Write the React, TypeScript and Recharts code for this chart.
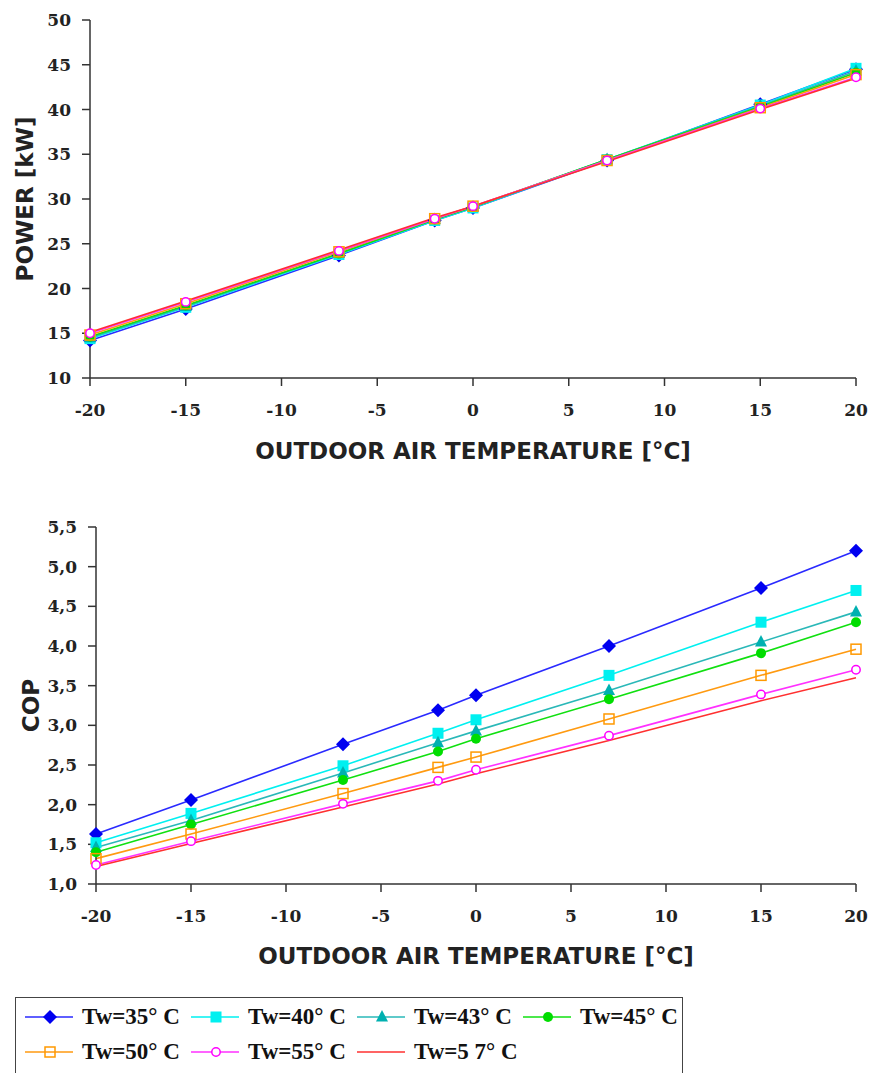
import React from "react";
import { CartesianGrid, Line, LineChart, XAxis, YAxis } from "recharts";

const temps = [-20, -15, -7, -2, 0, 7, 15, 20];
const tempTicks = [-20, -15, -10, -5, 0, 5, 10, 15, 20];
const powerTicks = [10, 15, 20, 25, 30, 35, 40, 45, 50];
const copTicks = [1.0, 1.5, 2.0, 2.5, 3.0, 3.5, 4.0, 4.5, 5.0, 5.5];

const seriesNames = ["Tw=35° C", "Tw=40° C", "Tw=43° C", "Tw=45° C", "Tw=50° C", "Tw=55° C", "Tw=5 7° C"];

const power35 = [14.2, 17.7, 23.7, 27.6, 29.0, 34.3, 40.6, 44.5];
const power40 = [14.4, 17.9, 23.8, 27.6, 29.0, 34.4, 40.5, 44.6];
const power43 = [14.5, 18.0, 23.9, 27.7, 29.1, 34.4, 40.4, 44.3];
const power45 = [14.6, 18.1, 23.9, 27.7, 29.1, 34.4, 40.3, 44.1];
const power50 = [14.8, 18.3, 24.1, 27.8, 29.2, 34.3, 40.2, 43.9];
const power55 = [15.0, 18.5, 24.2, 27.8, 29.2, 34.3, 40.1, 43.6];
const power57 = [15.1, 18.6, 24.3, 27.9, 29.2, 34.2, 40.0, 43.5];

const cop35 = [1.63, 2.06, 2.76, 3.19, 3.38, 4.0, 4.73, 5.2];
const cop40 = [1.52, 1.89, 2.49, 2.9, 3.07, 3.63, 4.3, 4.7];
const cop43 = [1.46, 1.8, 2.4, 2.78, 2.93, 3.44, 4.05, 4.43];
const cop45 = [1.4, 1.75, 2.31, 2.67, 2.83, 3.33, 3.91, 4.3];
const cop50 = [1.32, 1.63, 2.14, 2.47, 2.6, 3.08, 3.63, 3.96];
const cop55 = [1.24, 1.54, 2.01, 2.3, 2.44, 2.87, 3.39, 3.7];
const cop57 = [1.22, 1.51, 1.97, 2.26, 2.39, 2.81, 3.31, 3.6];

const powerSeries = [power35, power40, power43, power45, power50, power55, power57];
const copSeries = [cop35, cop40, cop43, cop45, cop50, cop55, cop57];

type Marker = "diamond" | "square" | "triangle" | "circle" | "hollowSquare" | "hollowCircle" | "none";

const styles: { line: string; mark: string; marker: Marker }[] = [
  { line: "#2a2aff", mark: "#0000f0", marker: "diamond" },
  { line: "#00f0f0", mark: "#00f0f0", marker: "square" },
  { line: "#2ab8b8", mark: "#00b0b0", marker: "triangle" },
  { line: "#10e010", mark: "#00dd00", marker: "circle" },
  { line: "#ff9a10", mark: "#ff9900", marker: "hollowSquare" },
  { line: "#ff30ff", mark: "#ff00ff", marker: "hollowCircle" },
  { line: "#ff3030", mark: "#ff3030", marker: "none" },
];

const buildRows = (series: number[][]) =>
  temps.map((t, i) => {
    const row: Record<string, number> = { t };
    series.forEach((s, k) => (row[`s${k}`] = s[i]));
    return row;
  });

const powerData = buildRows(powerSeries);
const copData = buildRows(copSeries);

function markerShape(kind: Marker, color: string, cx: number, cy: number, key?: string | number) {
  switch (kind) {
    case "diamond":
      return <polygon key={key} points={`${cx},${cy - 7} ${cx + 7},${cy} ${cx},${cy + 7} ${cx - 7},${cy}`} fill={color} />;
    case "square":
      return <rect key={key} x={cx - 5.5} y={cy - 5.5} width={11} height={11} fill={color} />;
    case "triangle":
      return <polygon key={key} points={`${cx},${cy - 7} ${cx + 6},${cy + 4.5} ${cx - 6},${cy + 4.5}`} fill={color} />;
    case "circle":
      return <circle key={key} cx={cx} cy={cy} r={5} fill={color} />;
    case "hollowSquare":
      return <rect key={key} x={cx - 5} y={cy - 5} width={10} height={10} fill="none" stroke={color} strokeWidth={1.5} />;
    case "hollowCircle":
      return <circle key={key} cx={cx} cy={cy} r={4.2} fill="#fff" stroke={color} strokeWidth={1.5} />;
    default:
      return <g key={key} />;
  }
}

const tickStyle = { fill: "#222", fontSize: 17, fontFamily: "DejaVu Serif", fontWeight: "bold" };
const titleStyle = { fill: "#222", fontSize: 23, fontFamily: "DejaVu Sans", fontWeight: "bold", textAnchor: "middle" as const };
const axisStroke = { stroke: "#333", strokeWidth: 1.5 };

const comma = (v: number) => v.toFixed(1).replace(".", ",");

function Chart({
  data,
  top,
  height,
  marginTop,
  marginLeft,
  domain,
  ticks,
  yTitle,
  xAxisHeight,
  formatY,
}: {
  data: Record<string, number>[];
  top: number;
  height: number;
  marginTop: number;
  marginLeft: number;
  domain: [number, number];
  ticks: number[];
  yTitle: string;
  xAxisHeight: number;
  formatY?: (v: number) => string;
}) {
  return (
    <div style={{ position: "absolute", left: 0, top }}>
      <LineChart width={877} height={height} data={data} margin={{ top: marginTop, right: 21, left: marginLeft, bottom: 0 }}>
        <CartesianGrid stroke="none" />
        <XAxis
          type="number"
          dataKey="t"
          domain={[-20, 20]}
          ticks={tempTicks}
          height={xAxisHeight}
          tick={tickStyle}
          tickSize={8}
          tickMargin={18}
          axisLine={axisStroke}
          tickLine={axisStroke}
          label={{ value: "OUTDOOR AIR TEMPERATURE [°C]", position: "insideBottom", offset: 16, style: titleStyle }}
        />
        <YAxis
          type="number"
          domain={domain}
          ticks={ticks}
          width={75}
          tick={tickStyle}
          tickSize={8}
          tickMargin={11}
          tickFormatter={formatY}
          axisLine={axisStroke}
          tickLine={axisStroke}
          label={{ value: yTitle, angle: -90, position: "insideLeft", offset: 10, style: titleStyle }}
        />
        {styles.map((s, k) => (
          <Line
            key={k}
            type="linear"
            dataKey={`s${k}`}
            name={seriesNames[k]}
            stroke={s.line}
            strokeWidth={1.6}
            isAnimationActive={false}
            activeDot={false}
            dot={(p: any) => markerShape(s.marker, s.mark, p.cx, p.cy, p.index)}
          />
        ))}
      </LineChart>
    </div>
  );
}

function LegendBox() {
  return (
    <div
      style={{
        position: "absolute",
        left: 15,
        top: 997,
        width: 666,
        height: 90,
        border: "1.5px solid #444",
        background: "#fff",
      }}
    >
      {styles.map((s, k) => {
        const col = k % 4;
        const row = Math.floor(k / 4);
        const left = 9 + col * 166;
        const top = 8 + row * 35;
        return (
          <div key={k} style={{ position: "absolute", left, top, height: 22, display: "flex", alignItems: "center" }}>
            <svg width={48} height={20}>
              <line x1={0} y1={10} x2={48} y2={10} stroke={s.line} strokeWidth={1.6} />
              {markerShape(s.marker, s.mark, 25, 10)}
            </svg>
            <span
              style={{
                marginLeft: 9,
                fontFamily: "Liberation Serif",
                fontWeight: "bold",
                fontSize: 23,
                color: "#111",
                lineHeight: "22px",
                whiteSpace: "pre",
              }}
            >
              {seriesNames[k]}
            </span>
          </div>
        );
      })}
    </div>
  );
}

export default function App() {
  return (
    <div style={{ position: "absolute", left: 0, top: 0, width: 877, height: 1073, overflow: "hidden", background: "#fff" }}>
      <Chart
        data={powerData}
        top={0}
        height={475}
        marginTop={20}
        marginLeft={15}
        domain={[10, 50]}
        ticks={powerTicks}
        yTitle="POWER [kW]"
        xAxisHeight={97}
      />
      <Chart
        data={copData}
        top={480}
        height={500}
        marginTop={47}
        marginLeft={21}
        domain={[1, 5.5]}
        ticks={copTicks}
        yTitle="COP"
        xAxisHeight={96}
        formatY={comma}
      />
      <LegendBox />
    </div>
  );
}
